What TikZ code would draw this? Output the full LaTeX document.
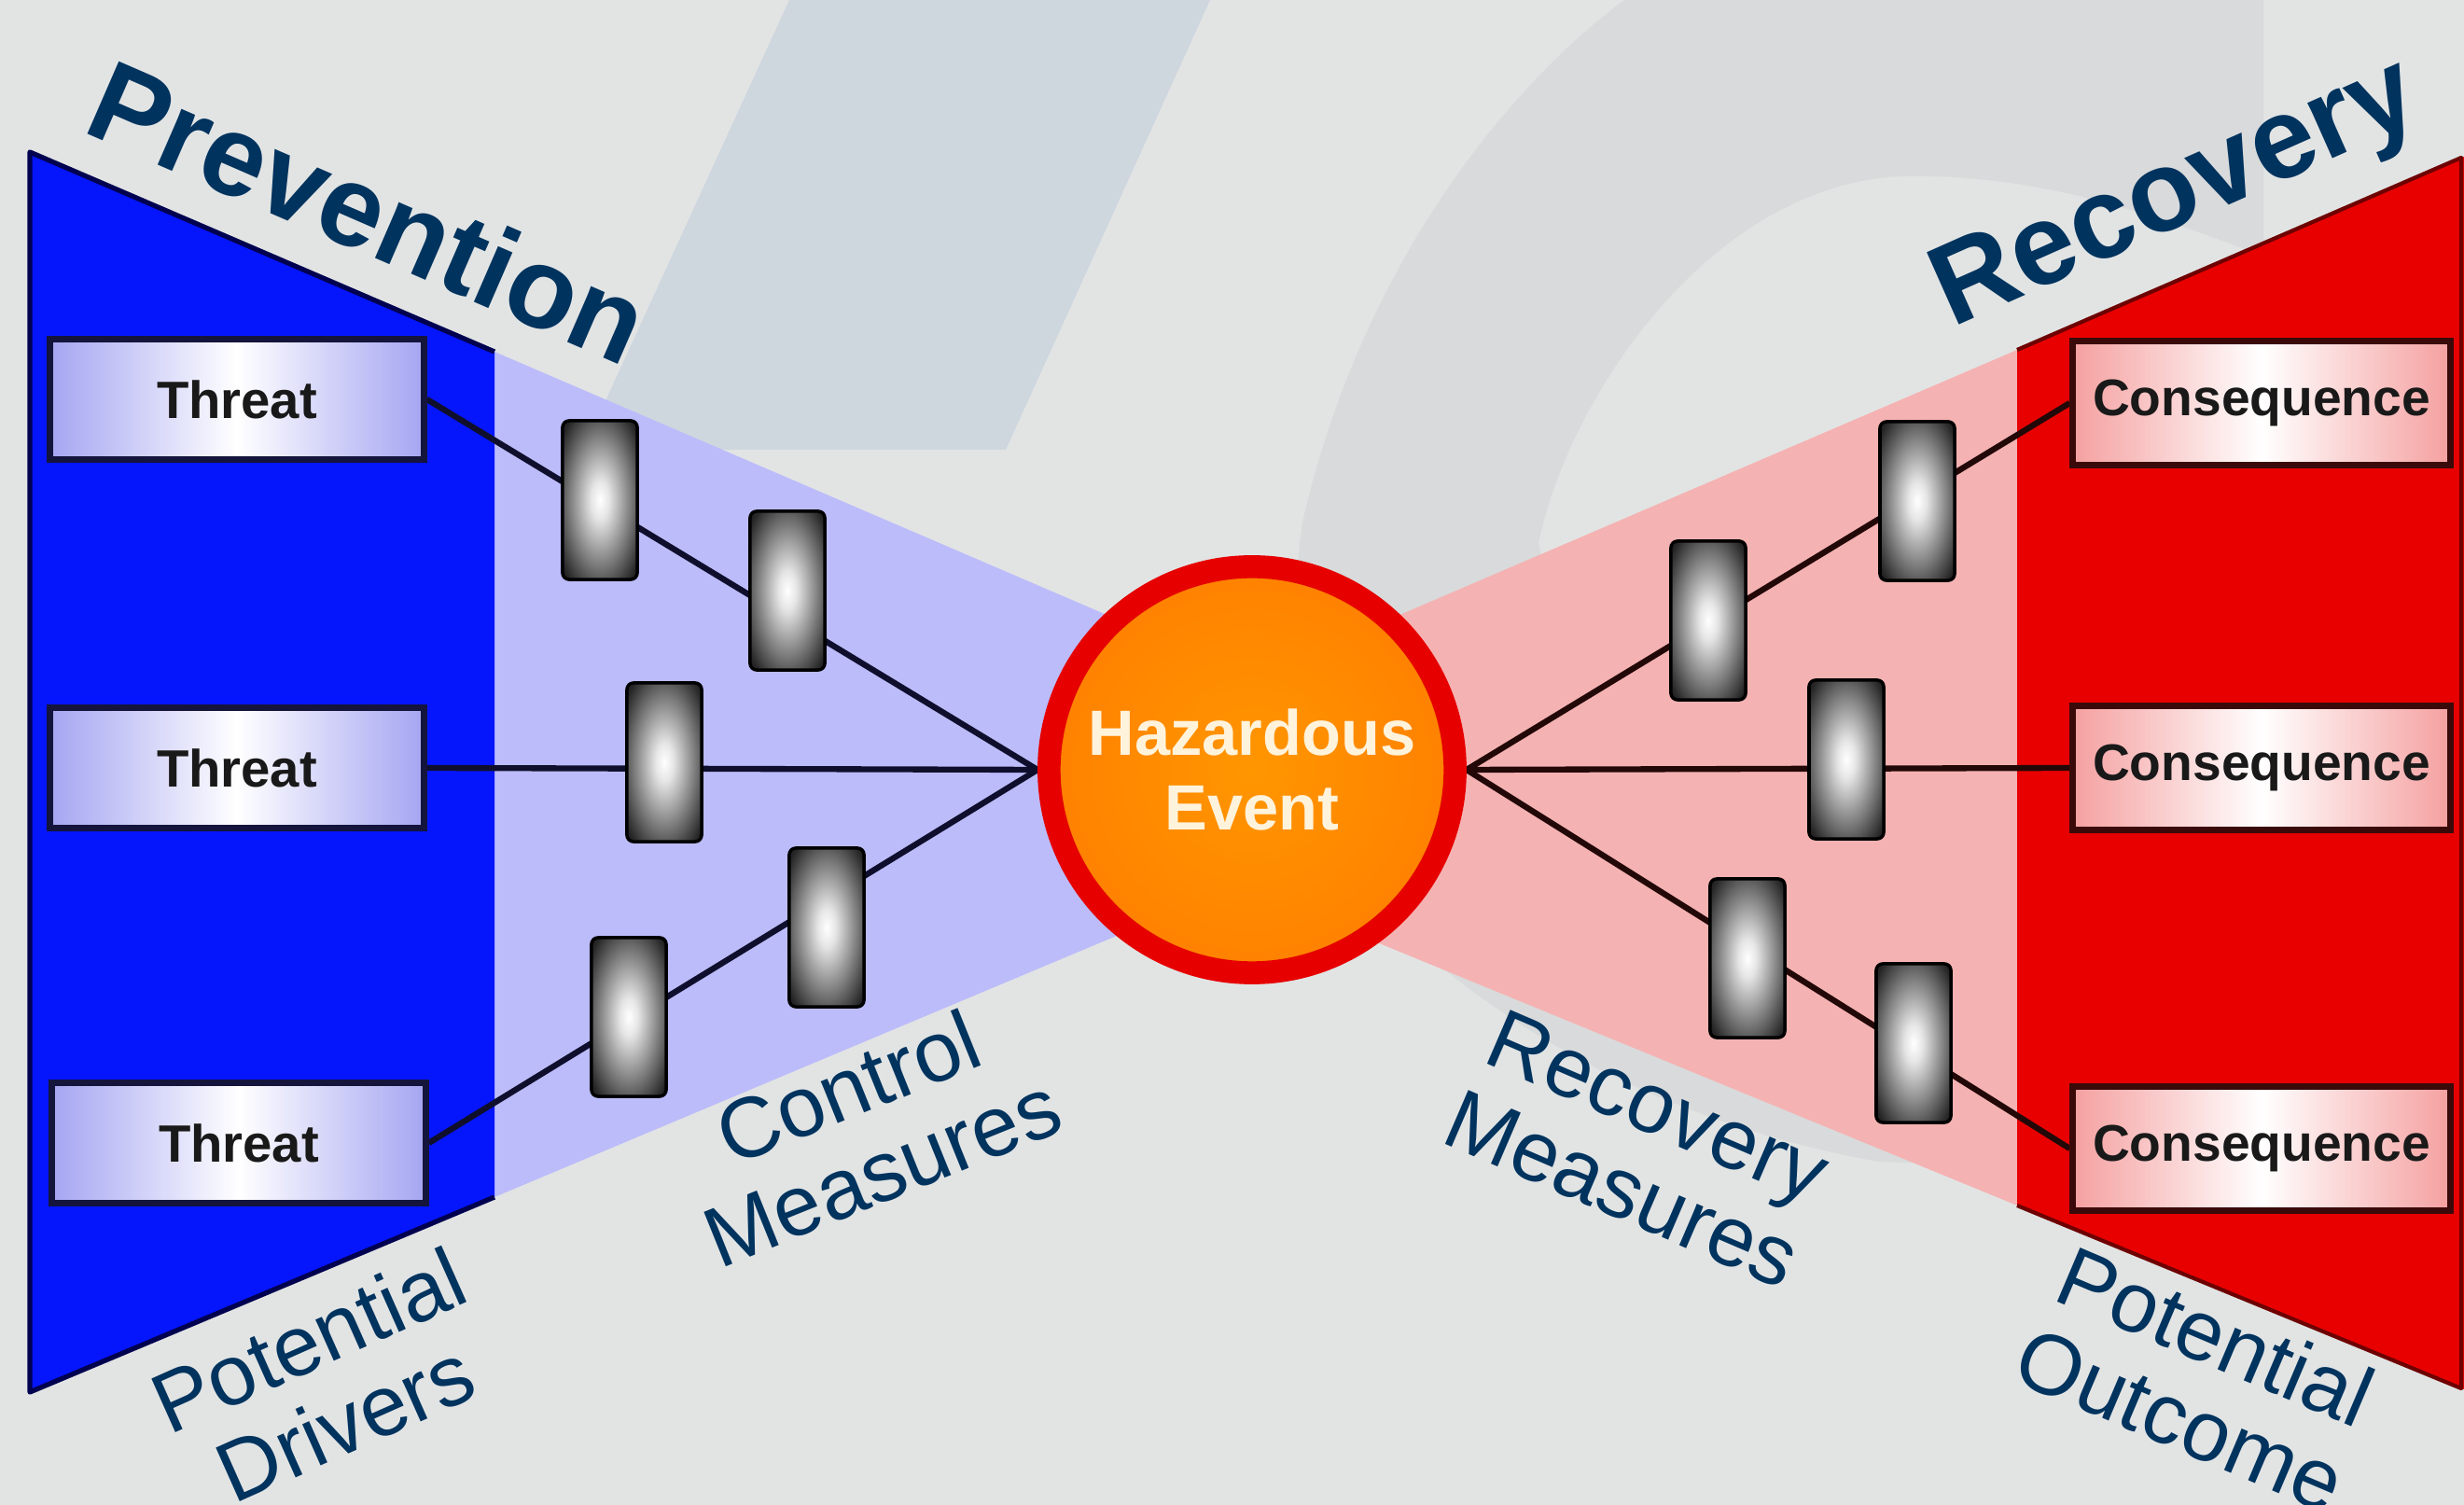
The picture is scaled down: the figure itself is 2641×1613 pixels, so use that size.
\documentclass[tikz,border=0pt]{standalone}
\usepackage{fontspec}
\setmainfont{Liberation Sans}
\definecolor{bgc}{RGB}{226,228,228}
\definecolor{ringc}{RGB}{217,218,219}
\definecolor{parac}{RGB}{206,214,222}
\definecolor{dblue}{RGB}{5,22,252}
\definecolor{dblueedge}{RGB}{0,0,80}
\definecolor{lblue}{RGB}{188,188,250}
\definecolor{dred}{RGB}{232,0,0}
\definecolor{dredge}{RGB}{110,0,0}
\definecolor{lpink}{RGB}{245,178,178}
\definecolor{navy}{RGB}{0,51,94}
\definecolor{tlav}{RGB}{165,165,242}
\definecolor{cpink}{RGB}{245,160,160}
\definecolor{tborder}{RGB}{20,20,60}
\definecolor{cborder}{RGB}{58,10,10}
\definecolor{linel}{RGB}{15,15,45}
\definecolor{liner}{RGB}{35,8,8}
\definecolor{hazA}{RGB}{255,150,0}
\definecolor{hazB}{RGB}{255,125,0}
\definecolor{hazC}{RGB}{255,102,0}
\definecolor{ringred}{RGB}{230,0,0}
\definecolor{cream}{RGB}{255,243,220}
\pgfdeclareradialshading{barriershade}{\pgfpoint{0bp}{0bp}}{color(0bp)=(white); color(6bp)=(white!90!black); color(20bp)=(black!50); color(32bp)=(black!85); color(42bp)=(black!97); color(50bp)=(black)}
\pgfdeclareradialshading{hazshade}{\pgfpoint{0bp}{0bp}}{color(0bp)=(hazA); color(30bp)=(hazB); color(50bp)=(hazC)}
\pgfdeclarelayer{bglayer}
\pgfdeclarelayer{linelayer}
\pgfsetlayers{bglayer,linelayer,main}
\begin{document}
\begin{tikzpicture}[x=0.01cm,y=-0.01cm,
  threatbox/.style={rectangle, draw=tborder, line width=2pt, minimum width=4cm, minimum height=1.28cm, inner sep=0pt,
    left color=tlav, right color=tlav, middle color=white, text=black!90, font=\fontsize{16}{19}\selectfont\bfseries},
  consbox/.style={rectangle, draw=cborder, line width=2pt, minimum width=4.04cm, minimum height=1.32cm, inner sep=0pt,
    left color=cpink, right color=cpink, middle color=white, text=black!90, font=\fontsize{15.7}{19}\selectfont\bfseries},
  barrierbox/.style={rectangle, rounded corners=2pt, minimum width=0.8cm, minimum height=1.7cm, inner sep=0pt,
    shading=barriershade, draw=black, line width=1pt},
  linkl/.style={draw=linel, line width=1.8pt},
  linkr/.style={draw=liner, line width=1.8pt},
  lbltext/.style={text=navy, align=center, inner sep=0pt, font=\fontsize{26}{27.5}\selectfont},
  bigtext/.style={text=navy, inner sep=0pt, font=\fontsize{35}{40}\selectfont\bfseries}]
\useasboundingbox (0,0) rectangle (2641,1613);
\begin{pgfonlayer}{bglayer}
\fill[bgc] (0,0) rectangle (2641,1613);
% watermark ring
\fill[ringc] (1741,0) .. controls (1620,90) and (1460,280) .. (1396,560)
  .. controls (1370,750) and (1400,900) .. (1520,1015)
  .. controls (1650,1130) and (1820,1210) .. (2013,1245)
  -- (2400,1260) -- (2200,900) -- (1700,800) -- (1649,582)
  .. controls (1680,430) and (1830,200) .. (2036,189)
  .. controls (2200,185) and (2330,240) .. (2426,274) -- (2426,0) -- cycle;
% watermark slanted band
\fill[parac] (846,0) -- (1297,0) -- (1078,482) -- (625,482) -- cycle;
% prevention wedge
\fill[lblue] (530,377) -- (1342,726) -- (1342,942) -- (530,1283) -- cycle;
\fill[dblue] (32,163) -- (530,377) -- (530,1283) -- (32,1492) -- cycle;
\draw[dblueedge, line width=1.5pt, line join=round] (530,377) -- (32,163) -- (32,1492) -- (530,1283);
% recovery wedge
\fill[lpink] (1342,727) -- (2162,375) -- (2162,1292) -- (1342,955) -- cycle;
\fill[dred] (2162,375) -- (2641,168) -- (2641,1489) -- (2162,1292) -- cycle;
\draw[dredge, line width=1.2pt, line join=round] (2162,375) -- (2638,169) -- (2638,1488) -- (2162,1292);
\end{pgfonlayer}

% titles
\node[bigtext, anchor=base west, rotate=-23.5] (prev) at (86,140) {Prevention};
\node[bigtext, anchor=base west, rotate=24] (reco) at (2092,352) {Recovery};

% threats and consequences
\node[threatbox] (t1) at (254,428) {Threat};
\node[threatbox] (t2) at (254,823) {Threat};
\node[threatbox] (t3) at (256,1225) {Threat};
\node[consbox] (c1) at (2424,432) {Consequence};
\node[consbox] (c2) at (2424,823) {Consequence};
\node[consbox] (c3) at (2424,1231) {Consequence};

% hazardous event
\node[circle, minimum size=4.35cm, inner sep=0pt, draw=ringred, line width=7pt, shading=hazshade,
  text=cream, align=center, font=\fontsize{19.5}{22.8}\selectfont\bfseries] (haz) at (1342,825) {Hazardous\\Event};

% barriers
\node[barrierbox] (b1) at (643,536) {};
\node[barrierbox] (b2) at (844,633) {};
\node[barrierbox] (b3) at (712,817) {};
\node[barrierbox] (b4) at (886,994) {};
\node[barrierbox] (b5) at (674,1090) {};
\node[barrierbox] (r1) at (2055,537) {};
\node[barrierbox] (r2) at (1831,665) {};
\node[barrierbox] (r3) at (1979,814) {};
\node[barrierbox] (r4) at (1873,1027) {};
\node[barrierbox] (r5) at (2051,1118) {};

% connectors
\begin{pgfonlayer}{linelayer}
\draw[linkl] (t1.east) -- (haz.west);
\draw[linkl] (t2.east) -- (haz.west);
\draw[linkl] (t3.east) -- (haz.west);
\draw[linkr] (haz.east) -- (c1.west);
\draw[linkr] (haz.east) -- (c2.west);
\draw[linkr] (haz.east) -- (c3.west);
\end{pgfonlayer}

% captions
\node[lbltext, rotate=24] (pd) at (350,1480) {Potential\\Drivers};
\node[lbltext, rotate=22] (cm) at (927,1210) {Control\\Measures};
\node[lbltext, rotate=-23.3] (rm) at (1758,1230) {Recovery\\Measures};
\node[lbltext, rotate=-23] (po) at (2356,1476) {Potential\\Outcome};
\end{tikzpicture}
\end{document}
